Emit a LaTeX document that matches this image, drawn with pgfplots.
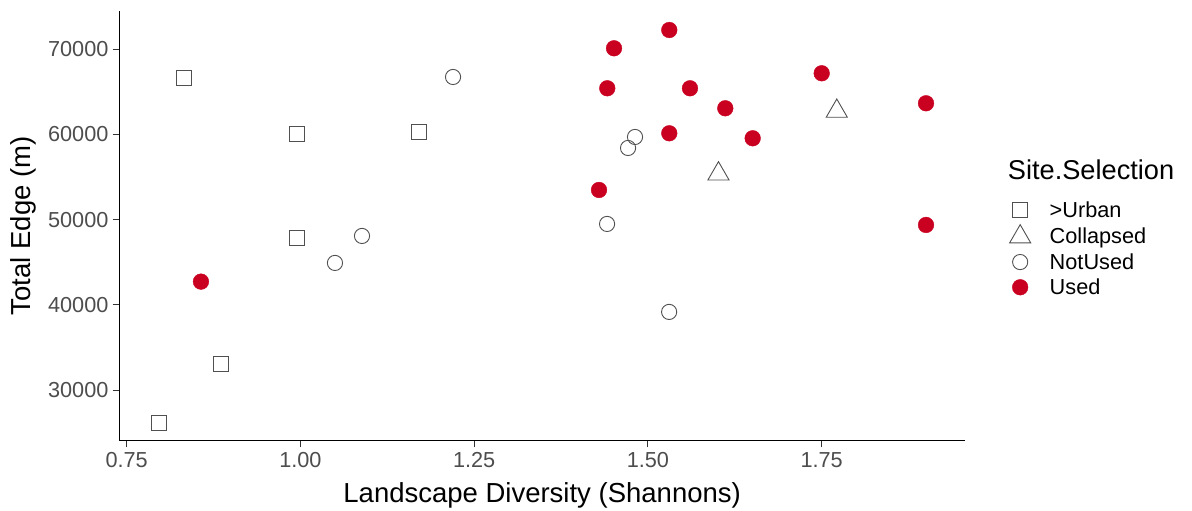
\documentclass[border=0pt]{standalone}
\usepackage{pgfplots}
\pgfplotsset{compat=1.18}
\usepackage{fontspec}
\setmainfont{Liberation Sans}
\definecolor{usedred}{RGB}{201,0,32}
\definecolor{tickgray}{RGB}{77,77,77}
\definecolor{markgray}{RGB}{80,80,80}
\begin{document}
\begin{tikzpicture}
\useasboundingbox (0,0) rectangle (1192bp,511bp);
\begin{axis}[
  at={(119.3bp,70.3bp)}, anchor=south west,
  scale only axis, width=845.7bp, height=430bp,
  xmin=0.7394, xmax=1.9562, ymin=24049, ymax=74531,
  scaled ticks=false,
  axis x line*=bottom, axis y line*=left,
  axis line style={-, line width=1.1bp, black},
  tick align=outside, major tick length=6.7bp,
  tick style={line width=1bp, black!80},
  xtick={0.75,1,1.25,1.5,1.75},
  xticklabels={0.75,1.00,1.25,1.50,1.75},
  ytick={30000,40000,50000,60000,70000},
  yticklabels={30000,40000,50000,60000,70000},
  ticklabel style={font=\fontsize{21.7bp}{26bp}\selectfont, text=tickgray},
  xticklabel style={inner sep=2bp, yshift=-3bp},
  yticklabel style={inner sep=2bp, xshift=-2bp},
  xlabel={Landscape Diversity (Shannons)},
  ylabel={Total Edge (m)},
  label style={font=\fontsize{27.5bp}{32bp}\selectfont},
  xlabel style={at={(axis description cs:0.5,-0.128)}, anchor=center},
  ylabel style={at={(axis description cs:-0.1139,0.5)}, anchor=center, rotate=0},
  clip=false,
  legend style={draw=none, fill=none, at={(1.0525,0.5616)}, anchor=north west,
    font=\fontsize{21.7bp}{26bp}\selectfont, row sep=4bp, column sep=17bp, inner sep=0pt,
    nodes={inner sep=2bp}},
  legend cell align=left,
]
\addplot[only marks, mark=square, mark size=7.4bp, draw=markgray, line width=0.9bp]
  coordinates {(0.832,66631)(0.9946,60023)(0.9946,47887)(0.8857,33099)(0.7965,26174)(1.1706,60293)};
\addlegendentry{>Urban}
\addplot[only marks, mark=triangle, mark size=12.2bp, draw=markgray, line width=0.9bp]
  coordinates {(1.7717,62735)(1.6015,55376)};
\addlegendentry{Collapsed}
\addplot[only marks, mark=o, mark size=7.6bp, draw=markgray, line width=0.9bp]
  coordinates {(1.2196,66749)(1.0886,48087)(1.0497,44918)(1.4814,59707)(1.4714,58415)(1.4412,49495)(1.5305,39167)};
\addlegendentry{NotUsed}
\addplot[only marks, mark=*, mark size=7.85bp, color=usedred, mark options={draw=none, fill=usedred}]
  coordinates {(1.5307,72265)(1.4512,70117)(1.4415,65423)(1.5605,65423)(1.6113,63075)(1.75,67183)(1.9001,63662)(1.5307,60141)(1.6507,59554)(1.4296,53486)(1.9001,49378)(0.8569,42723)};
\addlegendentry{Used}
\end{axis}
\node[anchor=west, inner sep=0pt, font=\fontsize{27.2bp}{32bp}\selectfont] at (1007.7bp,341bp) {Site.Selection};
\end{tikzpicture}
\end{document}
